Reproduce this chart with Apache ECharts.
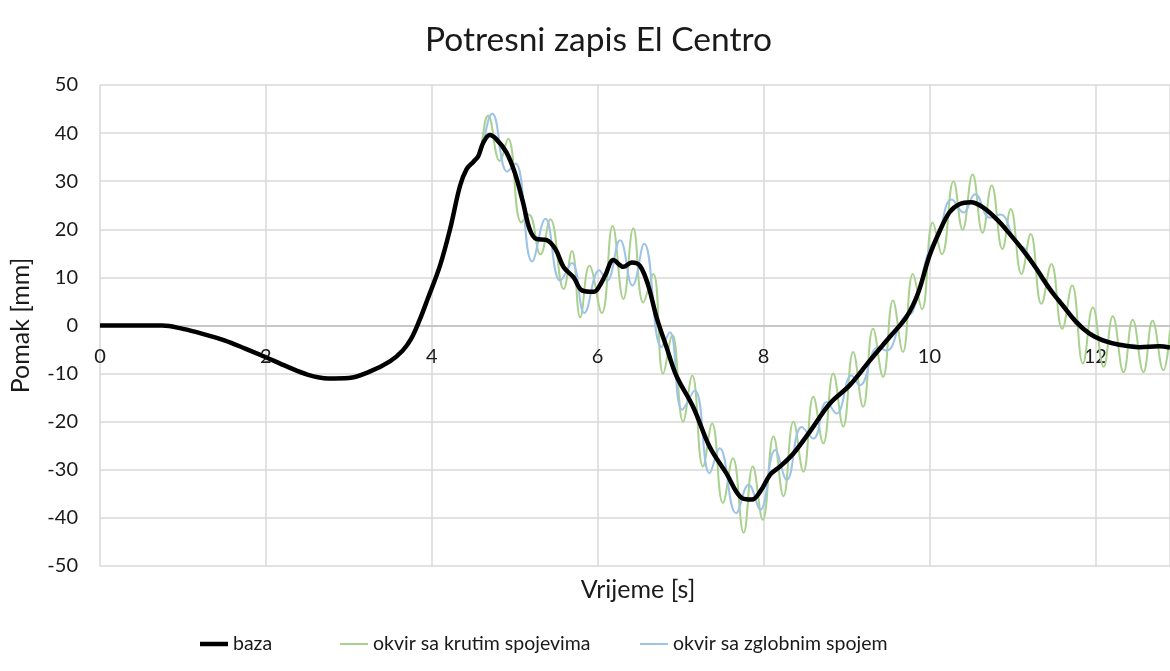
<!DOCTYPE html>
<html>
<head>
    <meta charset="UTF-8">
    <title>Potresni zapis El Centro</title>
    <style>
        body,
        html {
            width: 100%;
            height: 100%;
            margin: 0;
            padding: 0;
            background: #fff;
        }
        #myChart {
            width: 1170px;
            height: 671px;
        }
    </style>
    <script src="https://cdn.jsdelivr.net/npm/echarts@6/dist/echarts.min.js"></script>
</head>
<body>
    <div id="myChart"></div>
    <script>
        // vrijeme [s], pomak [mm] - ocitano sa slike
        // zajednicki pocetak (sve tri krivulje se poklapaju)
        let pocetak = [
            [0, 0], [0.4, 0], [0.75, 0], [1.0, -0.7], [1.25, -1.8], [1.5, -3.1], [1.75, -4.8],
            [2.0, -6.6], [2.25, -8.5], [2.5, -10.2], [2.75, -11.0], [3.0, -10.9], [3.25, -9.6],
            [3.5, -7.4], [3.65, -5.2], [3.75, -2.8], [3.85, 1.0], [3.95, 5.5], [4.1, 12.5],
            [4.22, 20], [4.34, 29], [4.42, 32.5]
        ];

        let baza = [
            [4.5, 34], [4.56, 35.2], [4.62, 38], [4.7, 39.6], [4.78, 38.7], [4.9, 36], [5.0, 31.8],
            [5.1, 25.6], [5.18, 20], [5.26, 18], [5.38, 17.8], [5.49, 15.9], [5.59, 12.1],
            [5.71, 10], [5.81, 7.3], [5.95, 7], [6.0, 7.6], [6.09, 10.4], [6.19, 13.6],
            [6.31, 12.2], [6.41, 13.1], [6.51, 12.4], [6.61, 8.3], [6.71, 1.7], [6.83, -4.5],
            [6.95, -10.5], [7.15, -16.9], [7.35, -25.2], [7.55, -30.7], [7.74, -35.9],
            [7.86, -36.2], [7.96, -34.5], [8.08, -31], [8.2, -29.3], [8.36, -26.6], [8.56, -22],
            [8.8, -16.2], [9.04, -12.4], [9.28, -7.3], [9.52, -2.4], [9.72, 1.7], [9.86, 6.6],
            [10.0, 14.5], [10.12, 19.5], [10.24, 23.5], [10.36, 25.2], [10.5, 25.6], [10.65, 24.5],
            [10.81, 22.1], [10.97, 19], [11.13, 15.6], [11.29, 11.8], [11.45, 7.6], [11.61, 4.1],
            [11.77, 0.7], [11.93, -1.7], [12.09, -3.1], [12.29, -4], [12.53, -4.5], [12.77, -4.3],
            [12.9, -4.6]
        ];

        let kruti = [
            [4.5, 34.3], [4.56, 34.8], [4.68, 43.6], [4.82, 34.2], [4.92, 38.8], [5.08, 21.4],
            [5.17, 23.1], [5.31, 14.8], [5.43, 22.1], [5.59, 7.6], [5.69, 15.5], [5.79, 1.7],
            [5.9, 12.4], [6.05, 2.6], [6.18, 20.7], [6.31, 5.5], [6.43, 20.2], [6.55, 4.8],
            [6.67, 10.7], [6.79, -10], [6.9, -2], [7.03, -20], [7.14, -10.4], [7.27, -29.3],
            [7.38, -20.4], [7.51, -36.9], [7.63, -27.6], [7.76, -43.1], [7.87, -29.3],
            [7.99, -40.4], [8.12, -23], [8.24, -35.5], [8.36, -20], [8.48, -30.4], [8.6, -14.8],
            [8.72, -24.5], [8.84, -10], [8.96, -21], [9.08, -5.5], [9.2, -16.9], [9.32, -0.7],
            [9.44, -10.7], [9.56, 5.2], [9.68, -5.5], [9.8, 10.7], [9.91, 3.4], [10.04, 21.4],
            [10.15, 14.8], [10.29, 30], [10.4, 19.9], [10.52, 31.4], [10.64, 19.3], [10.75, 29.1],
            [10.88, 15.9], [10.98, 24.2], [11.11, 10.7], [11.22, 19], [11.35, 4.5], [11.47, 12.8],
            [11.6, -0.7], [11.72, 8.3], [11.85, -7.9], [11.97, 3.8], [12.1, -8.6], [12.21, 1.9],
            [12.34, -9.7], [12.45, 1.2], [12.58, -9.7], [12.69, 1.0], [12.82, -9.3], [12.9, -1]
        ];

        let zglobni = [
            [4.5, 34], [4.58, 36], [4.73, 44], [4.91, 32], [5.01, 33.7], [5.21, 13.3],
            [5.37, 22.2], [5.55, 9.3], [5.69, 13], [5.84, 2.6], [6.02, 11.5], [6.11, 9.3],
            [6.27, 17.7], [6.42, 8.3], [6.56, 17], [6.77, -4.5], [6.87, -1.4], [7.02, -17.5],
            [7.17, -13.5], [7.35, -30.7], [7.47, -25.5], [7.67, -39], [7.82, -33.1], [7.96, -38.3],
            [8.14, -25.9], [8.28, -32.1], [8.46, -21.1], [8.6, -23.5], [8.76, -15.9], [8.88, -18.3],
            [9.06, -10.4], [9.16, -12.4], [9.38, -4.5], [9.48, -5.2], [9.68, 1.5], [9.8, 3],
            [9.99, 15.5], [10.1, 18.5], [10.27, 26.2], [10.41, 23.5], [10.55, 27.3], [10.73, 22.4],
            [10.85, 23.1], [11.05, 16.9], [11.15, 16], [11.35, 9.5], [11.45, 8.2], [11.65, 3],
            [11.77, 1.3], [11.95, -2.2], [12.1, -2.8], [12.3, -4.3], [12.45, -4], [12.6, -4.6],
            [12.75, -4.1], [12.9, -4.6]
        ];

        let xTicks = [0, 2, 4, 6, 8, 10, 12];
        let font = 'Lato, "Open Sans", sans-serif';
        let tamno = '#1a1a1a';

        let myEcharts = echarts.init(document.querySelector('#myChart'));

        // jedna legenda po seriji (razmaci kao na slici)
        function legenda(ime, lijevo, debljina) {
            return {
                data: [{ name: ime, icon: 'path://M0,0H28V' + debljina + 'H0Z' }],
                left: lijevo,
                top: 634,
                padding: 0,
                itemWidth: 28,
                itemHeight: 10,
                textStyle: { fontFamily: font, fontSize: 19.5, color: tamno }
            };
        }

        let option = {
            animation: false,
            textStyle: { fontFamily: font },
            title: {
                text: 'Potresni zapis El Centro',
                left: 420,
                top: 18,
                textStyle: { fontFamily: font, fontSize: 33.5, fontWeight: 'normal', color: tamno }
            },
            graphic: [{
                type: 'text',
                x: 638,
                y: 590,
                style: {
                    text: 'Vrijeme [s]',
                    font: '25px ' + font,
                    fill: tamno,
                    align: 'center',
                    verticalAlign: 'middle'
                }
            }],
            legend: [
                legenda('baza', 200, 4.5),
                legenda('okvir sa krutim spojevima', 340, 2),
                legenda('okvir sa zglobnim spojem', 640, 2)
            ],
            grid: { left: 100, right: 0, top: 85, bottom: 105 },
            xAxis: {
                type: 'value',
                min: 0,
                max: 12.9,
                interval: 2,
                offset: -240.5,
                axisLine: { onZero: false, lineStyle: { color: '#bfbfbf', width: 1.5 } },
                axisTick: { show: false },
                axisLabel: {
                    margin: 21,
                    fontSize: 20,
                    color: tamno,
                    showMaxLabel: false,
                    formatter: v => xTicks.indexOf(v) >= 0 ? String(v) : ''
                },
                splitLine: { lineStyle: { color: '#d9d9d9', width: 1.5 } }
            },
            yAxis: {
                type: 'value',
                min: -50,
                max: 50,
                interval: 10,
                name: 'Pomak [mm]',
                nameLocation: 'middle',
                nameGap: 67,
                nameTextStyle: { fontFamily: font, fontSize: 25, color: tamno },
                axisLine: { show: false },
                axisTick: { show: false },
                axisLabel: { margin: 22, fontSize: 20, color: tamno },
                splitLine: { lineStyle: { color: '#d9d9d9', width: 1.5 } }
            },
            series: [
                {
                    name: 'baza',
                    type: 'line',
                    data: pocetak.concat(baza),
                    smooth: 0.35,
                    symbol: 'none',
                    z: 5,
                    lineStyle: { color: '#000', width: 4.5 },
                    itemStyle: { color: '#000' }
                },
                {
                    name: 'okvir sa krutim spojevima',
                    type: 'line',
                    data: pocetak.concat(kruti),
                    smooth: 0.45,
                    symbol: 'none',
                    z: 3,
                    lineStyle: { color: '#a9d18e', width: 2 },
                    itemStyle: { color: '#a9d18e' }
                },
                {
                    name: 'okvir sa zglobnim spojem',
                    type: 'line',
                    data: pocetak.concat(zglobni),
                    smooth: 0.45,
                    symbol: 'none',
                    z: 4,
                    lineStyle: { color: '#9dc3e6', width: 2 },
                    itemStyle: { color: '#9dc3e6' }
                }
            ]
        };
        myEcharts.setOption(option, true);

        window.addEventListener("resize", () => {
            myEcharts.resize();
        });
    </script>
</body>
</html>
